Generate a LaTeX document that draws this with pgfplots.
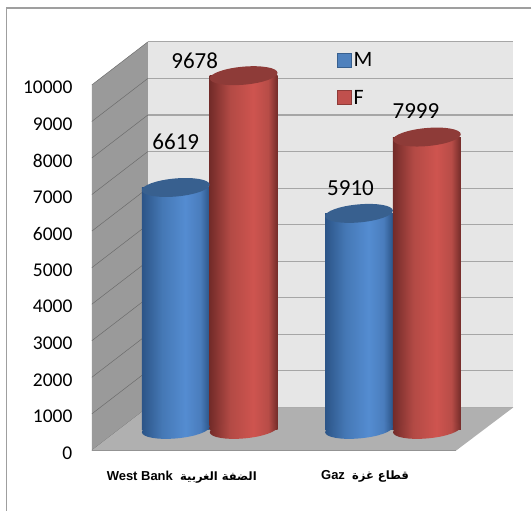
\documentclass[border=0pt]{standalone}
\usepackage{pgfplots}
\usepackage{pgfplotstable}
\usepackage{fontspec}
\pgfplotsset{compat=1.18}
\setmainfont{Carlito}
\newfontfamily\lblfont{Liberation Sans}
\newfontfamily\arabicfont[Script=Arabic]{DejaVu Sans}
\TeXXeTstate=1

\definecolor{wallback}{HTML}{E6E6E6}
\definecolor{wallside}{HTML}{9A9A9A}
\definecolor{floorc}{HTML}{B0B0B0}
\definecolor{gridc}{HTML}{A6A6A6}
\definecolor{blueTop}{HTML}{38608F}
\definecolor{redTop}{HTML}{8E3B38}
\definecolor{blueFill}{HTML}{4F81BD}
\definecolor{redFill}{HTML}{C0504D}

\pgfdeclarehorizontalshading{cylblue}{100bp}{
  rgb(0bp)=(0.17,0.33,0.53);
  rgb(25bp)=(0.17,0.33,0.53);
  rgb(40bp)=(0.27,0.47,0.71);
  rgb(57bp)=(0.33,0.55,0.82);
  rgb(68bp)=(0.29,0.49,0.74);
  rgb(75bp)=(0.17,0.33,0.53);
  rgb(100bp)=(0.17,0.33,0.53)}
\pgfdeclarehorizontalshading{cylred}{100bp}{
  rgb(0bp)=(0.45,0.17,0.16);
  rgb(25bp)=(0.45,0.17,0.16);
  rgb(40bp)=(0.70,0.29,0.27);
  rgb(57bp)=(0.81,0.33,0.31);
  rgb(68bp)=(0.72,0.30,0.28);
  rgb(75bp)=(0.45,0.17,0.16);
  rgb(100bp)=(0.45,0.17,0.16)}

% cylinder ends, slightly tilted
\newcommand{\cylend}{\pgfpathellipse{\pgfpointorigin}{\pgfpoint{33.9pt}{3pt}}{\pgfpoint{-0.8pt}{9pt}}}
\pgfdeclareplotmark{topblue}{\cylend\pgfsetfillcolor{blueTop}\pgfusepathqfill}
\pgfdeclareplotmark{topred}{\cylend\pgfsetfillcolor{redTop}\pgfusepathqfill}
\pgfdeclareplotmark{baseblue}{\cylend\pgfshadepath{cylblue}{0}\pgfusepath{discard}}
\pgfdeclareplotmark{basered}{\cylend\pgfshadepath{cylred}{0}\pgfusepath{discard}}

\pgfplotstableread{
x y b dx dy
0 6619 0 0 46
1 5910 0 -8.5 25
}\tblM
\pgfplotstableread{
x y b dx dy
0 9678 0 -49 15
1 7999 0 -11 26
}\tblF

\pgfplotsset{
  cyl/.style={ybar,bar width=68pt,bar shift=0pt,yshift=21pt,
    visualization depends on={\thisrow{dx}\as\dx},
    visualization depends on={\thisrow{dy}\as\dy},
    nodes near coords,
    every node near coord/.style={anchor=center,font=\fontsize{23}{23}\selectfont,black,
      shift={(\dx pt,\dy pt)}},
  },
  first/.style={restrict x to domain=-0.5:0.5},
  second/.style={restrict x to domain=0.5:1.5},
}

\begin{document}
\begin{tikzpicture}[x=1pt,y=-1pt]
\path (0,0) rectangle (532,512);
% chart frame
\draw[color=gray!75,line width=1.5pt] (532,8) -- (6.5,8) -- (6.5,512);
% walls of the 3D box
\fill[wallback] (148,42) rectangle (514,408);
\fill[wallside] (92,85) -- (148,42) -- (148,408) -- (92,451) -- cycle;
\foreach \i in {0,...,10} {
  \draw[gridc,line width=1.1pt] (148,408-36.6*\i) -- (514,408-36.6*\i);
  \draw[gray!85!black,line width=.5pt] (92,451-36.6*\i) -- (148,408-36.6*\i);
}
\fill[floorc] (92,451) -- (148,408) -- (514,408) -- (457,451) -- cycle;
\draw[gray!85,line width=1.1pt] (92,451) -- (457,451);

\begin{axis}[
  at={(92pt,-451pt)},anchor=south west,
  scale only axis,width=365pt,height=366pt,
  xmin=-0.4905,xmax=1.4986,ymin=0,ymax=10000,
  clip=false,
  axis line style={draw=none},
  major tick length=0pt,
  xtick={0,1},
  xticklabels={
    {\lblfont\bfseries West Bank\ \ \arabicfont\fontsize{11.5}{10}\selectfont\beginR الضفة الغربية\endR},
    {\lblfont\bfseries Gaz\ \ \arabicfont\fontsize{11.5}{10}\selectfont\beginR قطاع غزة\endR}},
  x tick label style={font=\fontsize{13}{13}\selectfont,yshift=-17pt},
  ytick={0,1000,...,10000},
  scaled y ticks=false,
  y tick label style={font=\fontsize{19.5}{19.5}\selectfont,xshift=-16pt,yshift=-2.5pt},
  /pgf/number format/1000 sep={},
  /pgf/number format/assume math mode=true,
  legend style={at={(rel axis cs:0.663,1.10)},anchor=north west,draw=none,fill=none,
    row sep=18pt,font=\fontsize{22}{22}\selectfont},
  legend cell align=left,
  legend image code/.code={\draw[#1] (0pt,-7pt) rectangle (14pt,7pt);},
]
\addlegendimage{draw=blueTop,fill=blueFill,line width=1pt}
\addlegendentry{M}
\addlegendimage{draw=redTop,fill=redFill,line width=1pt}
\addlegendentry{F}

\addplot[forget plot,only marks,xshift=-6pt,yshift=21pt,mark=baseblue] table[x=x,y=b] {\tblM};
\addplot[forget plot,cyl,first,xshift=-6pt,draw=none,shading=cylblue,mark=topblue] table[x=x,y=y] {\tblM};
\addplot[forget plot,cyl,second,xshift=-6pt,draw=none,shading=cylblue,mark=topblue] table[x=x,y=y] {\tblM};
\addplot[forget plot,only marks,xshift=62pt,yshift=21pt,mark=basered] table[x=x,y=b] {\tblF};
\addplot[forget plot,cyl,first,xshift=62pt,draw=none,shading=cylred,mark=topred] table[x=x,y=y] {\tblF};
\addplot[forget plot,cyl,second,xshift=62pt,draw=none,shading=cylred,mark=topred] table[x=x,y=y] {\tblF};
\end{axis}
\end{tikzpicture}
\end{document}
